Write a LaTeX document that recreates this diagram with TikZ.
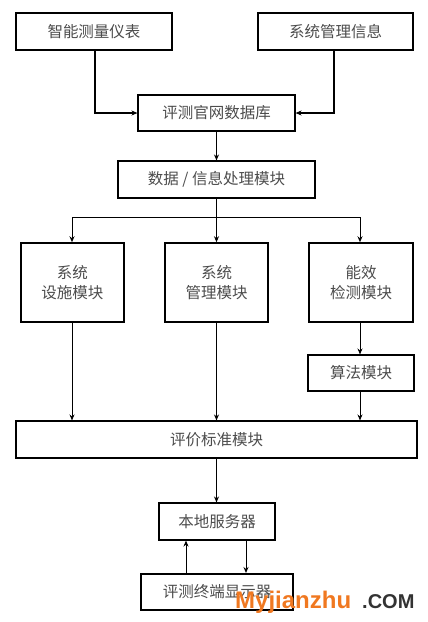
\documentclass[tikz,border=0pt]{standalone}
\usepackage{fontspec}
\setmainfont{Liberation Sans}
\newfontfamily\cjk{Noto Sans CJK SC}
\usetikzlibrary{arrows.meta}
\tikzset{
  box/.style={draw=black, line width=1.1pt, fill=white, inner sep=0pt, align=center,
    font=\cjk\fontsize{15.5}{20}\selectfont, text=black!70},
  conn/.style={line width=1pt, -{Stealth[length=6pt,width=5pt]}},
  thickconn/.style={line width=2pt, -{Stealth[length=6pt,width=5pt]}}
}
\begin{document}
\begin{tikzpicture}[x=1pt,y=-1pt]
\useasboundingbox (0,0) rectangle (428,622);
\fill[white] (0,0) rectangle (428,622);
% nodes
\node[box, minimum width=156pt, minimum height=37pt] (meter) at (94,31.5) {智能测量仪表};
\node[box, minimum width=155pt, minimum height=37pt] (info) at (335.5,31.5) {系统管理信息};
\node[box, minimum width=157pt, minimum height=36pt] (db) at (216.5,113) {评测官网数据库};
\node[box, minimum width=197pt, minimum height=37pt] (proc) at (216.5,179.5) {数据 / 信息处理模块};
\node[box, minimum width=103pt, minimum height=79pt, line width=1.5pt] (fac) at (72.5,282.5) {系统\\设施模块};
\node[box, minimum width=103pt, minimum height=79pt, line width=1.5pt] (mgmt) at (216.5,282.5) {系统\\管理模块};
\node[box, minimum width=104pt, minimum height=79pt, line width=1.5pt] (eff) at (361,282.5) {能效\\检测模块};
\node[box, minimum width=106pt, minimum height=36pt] (algo) at (361,373) {算法模块};
\node[box, minimum width=401pt, minimum height=37pt] (eval) at (216.5,439.5) {评价标准模块};
\node[box, minimum width=116pt, minimum height=37pt] (srv) at (217,521.5) {本地服务器};
\node[box, minimum width=152pt, minimum height=36pt, line width=2pt] (term) at (217,592) {评测终端显示器};
% connectors
\coordinate (jl) at (72,217);
\coordinate (jr) at (360,217);
\draw[thickconn] (meter.south -| 95,0) |- (db.west);
\draw[thickconn] (info.south -| 334,0) |- (db.east);
\draw[conn] (db.south) -- (proc.north);
\draw[line width=1pt] (proc.south) -- (216.5,217);
\draw[line width=1pt] (jl) -- (jr);
\draw[conn] (jl) -- (fac.north -| jl);
\draw[conn] (216.5,217) -- (mgmt.north);
\draw[conn] (jr) -- (eff.north -| jr);
\draw[conn] (fac.south -| jl) -- (eval.north -| jl);
\draw[conn] (mgmt.south) -- (eval.north -| mgmt.south);
\draw[conn] (eff.south -| jr) -- (algo.north -| jr);
\draw[conn] (algo.south -| jr) -- (eval.north -| jr);
\draw[conn] (eval.south -| 216.5,0) -- (srv.north -| 216.5,0);
\draw[conn] (term.north -| 186,0) -- (srv.south -| 186,0);
\draw[conn] (srv.south -| 246,0) -- (term.north -| 246,0);
% watermark
\node[anchor=base west, inner sep=0pt, text={rgb,255:red,240;green,120;blue,32}, font=\bfseries\fontsize{24}{24}\selectfont] (wm1) at (235,608) {Myjianzhu};
\node[anchor=base west, inner sep=0pt, text=black!80, font=\bfseries\fontsize{20}{20}\selectfont] (wm2) at (362,608) {.COM};
\end{tikzpicture}
\end{document}
